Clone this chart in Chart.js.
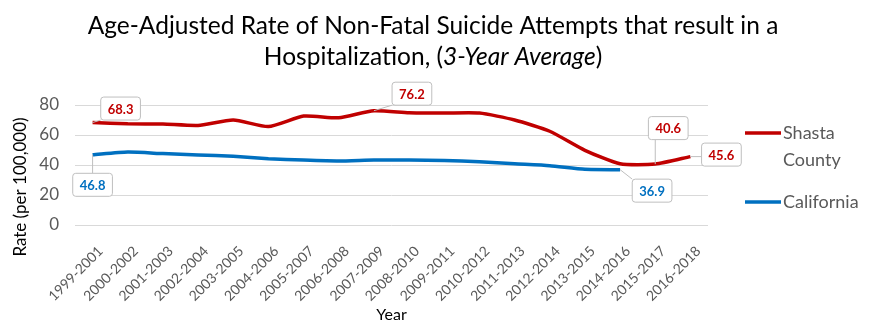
<!DOCTYPE html>
<html>
<head>
<meta charset="utf-8">
<script src="https://cdn.jsdelivr.net/npm/chart.js@4"></script>
<style>
  body { margin: 0; background: #fff; }
</style>
</head>
<body>
<canvas id="chart" width="874" height="325"></canvas>
<script>
const years = ["1999-2001", "2000-2002", "2001-2003", "2002-2004", "2003-2005", "2004-2006",
  "2005-2007", "2006-2008", "2007-2009", "2008-2010", "2009-2011", "2010-2012",
  "2011-2013", "2012-2014", "2013-2015", "2014-2016", "2015-2017", "2016-2018"];
const shasta = [68.3, 67.5, 67.3, 66.4, 70.0, 65.6, 72.6, 71.5, 76.2, 74.8, 74.6, 74.6, 70.0, 62.5, 49.8, 40.8, 40.6, 45.6];
const california = [46.8, 48.6, 47.6, 46.7, 45.8, 44.2, 43.3, 42.7, 43.3, 43.3, 43.0, 42.2, 40.8, 39.5, 37.1, 36.9, null, null];
const seriesNames = [["Shasta", "County"], ["California"]];
const seriesColors = ["#C00000", "#0070C0"];

// which points get a callout box, and where the box sits relative to the point
const callouts = [
  { set: 0, idx: 0, dx: 28, dy: -14 },
  { set: 0, idx: 8, dx: 38, dy: -17 },
  { set: 0, idx: 16, dx: 13, dy: -36 },
  { set: 0, idx: 17, dx: 31, dy: -2 },
  { set: 1, idx: 0, dx: 0, dy: 30 },
  { set: 1, idx: 15, dx: 32, dy: 21 },
];

const FONT = "Lato, 'Open Sans', sans-serif";
const GREY = "#595959";

const titlePlugin = {
  id: "twoLineTitle",
  afterDraw(chart) {
    const ctx = chart.ctx;
    const cx = 433;
    const size = "24.5px ";
    ctx.save();
    ctx.fillStyle = "#000";
    ctx.textBaseline = "middle";
    ctx.textAlign = "left";
    ctx.font = size + FONT;
    const line1 = "Age-Adjusted Rate of Non-Fatal Suicide Attempts that result in a";
    ctx.fillText(line1, cx - ctx.measureText(line1).width / 2, 26);

    const parts = [["Hospitalization, (", ""], ["3-Year Average", "italic "], [")", ""]];
    let total = 0;
    parts.forEach(p => { ctx.font = p[1] + size + FONT; total += ctx.measureText(p[0]).width; });
    let x = cx - total / 2;
    parts.forEach(p => {
      ctx.font = p[1] + size + FONT;
      ctx.fillText(p[0], x, 57);
      x += ctx.measureText(p[0]).width;
    });

    // y axis title, centred on the whole axis block like the original
    ctx.save();
    ctx.translate(21, 187);
    ctx.rotate(-Math.PI / 2);
    ctx.textAlign = "center";
    ctx.font = "17px " + FONT;
    ctx.fillText("Rate (per 100,000)", 0, 0);
    ctx.restore();
    ctx.restore();
  }
};

const legendPlugin = {
  id: "sideLegend",
  afterDraw(chart) {
    const ctx = chart.ctx;
    const rows = [133, 202];
    ctx.save();
    ctx.font = "18px " + FONT;
    ctx.fillStyle = GREY;
    ctx.textBaseline = "middle";
    seriesNames.forEach((lines, i) => {
      ctx.strokeStyle = seriesColors[i];
      ctx.lineWidth = 3.5;
      ctx.beginPath();
      ctx.moveTo(745, rows[i]);
      ctx.lineTo(781, rows[i]);
      ctx.stroke();
      lines.forEach((t, j) => ctx.fillText(t, 783, rows[i] + j * 27));
    });
    ctx.restore();
  }
};

const calloutPlugin = {
  id: "callouts",
  afterDatasetsDraw(chart) {
    const ctx = chart.ctx;
    ctx.save();
    ctx.font = "bold 13px " + FONT;
    ctx.textAlign = "center";
    ctx.textBaseline = "middle";
    callouts.forEach(c => {
      const pt = chart.getDatasetMeta(c.set).data[c.idx];
      const val = chart.data.datasets[c.set].data[c.idx];
      const text = val.toFixed(1);
      const w = ctx.measureText(text).width + 14;
      const h = 23;
      const bx = pt.x + c.dx - w / 2;
      const by = pt.y + c.dy - h / 2;
      const ex = Math.min(Math.max(pt.x, bx), bx + w);
      const ey = Math.min(Math.max(pt.y, by), by + h);
      ctx.strokeStyle = "#BFBFBF";
      ctx.lineWidth = 1;
      ctx.beginPath();
      ctx.moveTo(pt.x, pt.y);
      ctx.lineTo(ex, ey);
      ctx.stroke();
      ctx.fillStyle = "#fff";
      ctx.beginPath();
      ctx.roundRect(bx, by, w, h, 3);
      ctx.fill();
      ctx.stroke();
      ctx.fillStyle = seriesColors[c.set];
      ctx.fillText(text, bx + w / 2, by + h / 2 + 1);
    });
    ctx.restore();
  }
};

new Chart(document.getElementById("chart"), {
  type: "line",
  data: {
    labels: years,
    datasets: [
      { label: "Shasta County", data: shasta, borderColor: seriesColors[0], borderWidth: 3.5, pointRadius: 0, tension: 0.2 },
      { label: "California", data: california, borderColor: seriesColors[1], borderWidth: 3.5, pointRadius: 0, tension: 0.2 },
    ]
  },
  options: {
    responsive: false,
    animation: false,
    layout: { padding: { top: 105, right: 166, left: 0, bottom: 0 } },
    plugins: { legend: { display: false }, title: { display: false }, tooltip: { enabled: false } },
    scales: {
      x: {
        offset: true,
        grid: { display: false },
        border: { display: false },
        ticks: { color: GREY, font: { family: FONT, size: 14 }, minRotation: 45, maxRotation: 45, padding: 10, labelOffset: 8 },
        title: { display: true, text: "Year", color: "#000", font: { family: FONT, size: 16 }, padding: { top: 0, bottom: 1 } },
        afterFit(scale) { scale.height = 100; }
      },
      y: {
        min: 0,
        max: 80,
        grid: { color: "#D9D9D9", drawTicks: false },
        border: { display: false },
        ticks: { stepSize: 20, color: GREY, font: { family: FONT, size: 17 }, padding: 16 },
        afterFit(scale) { scale.width = 75; }
      }
    }
  },
  plugins: [titlePlugin, legendPlugin, calloutPlugin]
});
</script>
</body>
</html>
